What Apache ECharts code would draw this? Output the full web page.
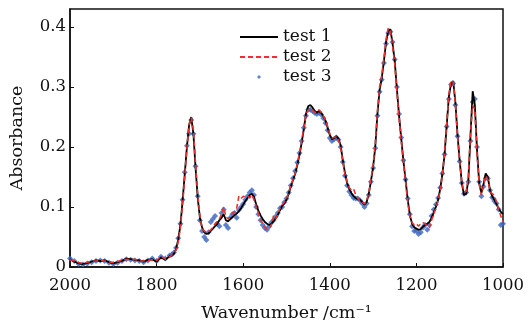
<!DOCTYPE html>
<html>
<head>
<meta charset="utf-8">
<script src="https://cdn.jsdelivr.net/npm/echarts@6/dist/echarts.min.js"></script>
<style>
  html, body { margin: 0; padding: 0; background: #fff; }
  #main { width: 531px; height: 327px; }
</style>
</head>
<body>
<div id="main"></div>
<script>
// wavenumbers (cm-1), baseline every 10, then every 5
var wavenumbers = [
  2000, 1990, 1980, 1970, 1960, 1950, 1940, 1930, 1920, 1910, 1900, 1890,
  1880, 1870, 1860, 1850, 1840, 1830, 1820, 1810, 1800, 1790, 1780, 1770,
  1765, 1760, 1755, 1750, 1745, 1740, 1735, 1730, 1725, 1720, 1715, 1710,
  1705, 1700, 1695, 1690, 1685, 1680, 1675, 1670, 1665, 1660, 1655, 1650,
  1645, 1640, 1635, 1630, 1625, 1620, 1615, 1610, 1605, 1600, 1595, 1590,
  1585, 1580, 1575, 1570, 1565, 1560, 1555, 1550, 1545, 1540, 1535, 1530,
  1525, 1520, 1515, 1510, 1505, 1500, 1495, 1490, 1485, 1480, 1475, 1470,
  1465, 1460, 1455, 1450, 1445, 1440, 1435, 1430, 1425, 1420, 1415, 1410,
  1405, 1400, 1395, 1390, 1385, 1380, 1375, 1370, 1365, 1360, 1355, 1350,
  1345, 1340, 1335, 1330, 1325, 1320, 1315, 1310, 1305, 1300, 1295, 1290,
  1285, 1280, 1275, 1270, 1265, 1260, 1255, 1250, 1245, 1240, 1235, 1230,
  1225, 1220, 1215, 1210, 1205, 1200, 1195, 1190, 1185, 1180, 1175, 1170,
  1165, 1160, 1155, 1150, 1145, 1140, 1135, 1130, 1125, 1120, 1115, 1110,
  1105, 1100, 1095, 1090, 1085, 1080, 1075, 1070, 1065, 1060, 1055, 1050,
  1045, 1040, 1035, 1030, 1025, 1020, 1015, 1010, 1005, 1000
];

var test1 = [
  0.013, 0.009, 0.006, 0.005, 0.007, 0.009, 0.011, 0.010, 0.011, 0.008, 0.006, 0.008,
  0.010, 0.014, 0.013, 0.012, 0.011, 0.009, 0.012, 0.013, 0.009, 0.016, 0.012, 0.018,
  0.019, 0.022, 0.030, 0.046, 0.070, 0.110, 0.155, 0.200, 0.236, 0.250, 0.222, 0.165,
  0.115, 0.082, 0.066, 0.058, 0.055, 0.056, 0.060, 0.064, 0.068, 0.072, 0.078, 0.082,
  0.088, 0.078, 0.076, 0.080, 0.083, 0.086, 0.089, 0.093, 0.098, 0.104, 0.110, 0.115,
  0.120, 0.122, 0.117, 0.104, 0.094, 0.086, 0.080, 0.075, 0.072, 0.070, 0.072, 0.076,
  0.081, 0.087, 0.095, 0.102, 0.106, 0.112, 0.122, 0.134, 0.145, 0.155, 0.170, 0.187,
  0.207, 0.230, 0.255, 0.268, 0.270, 0.266, 0.260, 0.257, 0.260, 0.257, 0.251, 0.244,
  0.232, 0.220, 0.213, 0.215, 0.218, 0.214, 0.203, 0.178, 0.157, 0.140, 0.130, 0.123,
  0.118, 0.115, 0.113, 0.112, 0.108, 0.104, 0.108, 0.122, 0.143, 0.166, 0.200, 0.255,
  0.295, 0.315, 0.343, 0.375, 0.394, 0.396, 0.372, 0.343, 0.296, 0.252, 0.214, 0.177,
  0.145, 0.112, 0.086, 0.072, 0.066, 0.064, 0.062, 0.063, 0.067, 0.070, 0.072, 0.075,
  0.082, 0.091, 0.100, 0.112, 0.130, 0.155, 0.187, 0.236, 0.284, 0.306, 0.310, 0.275,
  0.220, 0.177, 0.139, 0.120, 0.122, 0.145, 0.220, 0.293, 0.270, 0.195, 0.140, 0.123,
  0.138, 0.156, 0.150, 0.128, 0.118, 0.112, 0.105, 0.097, 0.092, 0.088
];

var test2 = [
  0.012, 0.010, 0.007, 0.006, 0.008, 0.010, 0.010, 0.011, 0.010, 0.009, 0.007, 0.009,
  0.011, 0.013, 0.012, 0.013, 0.010, 0.010, 0.011, 0.012, 0.011, 0.018, 0.013, 0.017,
  0.020, 0.023, 0.028, 0.042, 0.066, 0.104, 0.150, 0.198, 0.238, 0.249, 0.228, 0.172,
  0.120, 0.085, 0.064, 0.060, 0.058, 0.059, 0.062, 0.066, 0.072, 0.076, 0.080, 0.088,
  0.100, 0.084, 0.080, 0.083, 0.090, 0.092, 0.098, 0.118, 0.114, 0.118, 0.116, 0.118,
  0.115, 0.120, 0.112, 0.100, 0.090, 0.080, 0.072, 0.066, 0.062, 0.064, 0.070, 0.085,
  0.080, 0.088, 0.098, 0.104, 0.108, 0.114, 0.124, 0.136, 0.146, 0.156, 0.172, 0.190,
  0.210, 0.232, 0.254, 0.262, 0.264, 0.262, 0.258, 0.258, 0.262, 0.258, 0.252, 0.245,
  0.234, 0.222, 0.215, 0.216, 0.217, 0.212, 0.200, 0.176, 0.155, 0.142, 0.132, 0.128,
  0.130, 0.120, 0.114, 0.110, 0.108, 0.105, 0.110, 0.124, 0.146, 0.170, 0.205, 0.260,
  0.300, 0.320, 0.348, 0.380, 0.398, 0.394, 0.368, 0.338, 0.292, 0.248, 0.210, 0.174,
  0.142, 0.108, 0.084, 0.074, 0.070, 0.072, 0.068, 0.072, 0.074, 0.072, 0.068, 0.065,
  0.078, 0.088, 0.098, 0.110, 0.128, 0.153, 0.190, 0.240, 0.288, 0.311, 0.308, 0.272,
  0.218, 0.176, 0.140, 0.125, 0.126, 0.150, 0.224, 0.270, 0.262, 0.190, 0.138, 0.120,
  0.135, 0.152, 0.146, 0.126, 0.122, 0.120, 0.108, 0.096, 0.085, 0.075
];

var test3 = [
  0.014, 0.010, 0.005, 0.004, 0.006, 0.008, 0.010, 0.011, 0.010, 0.007, 0.005, 0.007,
  0.010, 0.013, 0.012, 0.011, 0.010, 0.008, 0.011, 0.014, 0.010, 0.017, 0.014, 0.019,
  0.021, 0.024, 0.032, 0.048, 0.072, 0.112, 0.158, 0.202, 0.222, 0.245, 0.222, 0.168,
  0.118, 0.078, 0.060, 0.050, 0.045, 0.058, 0.075, 0.080, 0.085, 0.072, 0.068, 0.090,
  0.096, 0.070, 0.065, 0.082, 0.088, 0.090, 0.082, 0.095, 0.100, 0.105, 0.112, 0.118,
  0.124, 0.128, 0.120, 0.100, 0.088, 0.078, 0.070, 0.065, 0.062, 0.068, 0.074, 0.078,
  0.084, 0.090, 0.098, 0.100, 0.108, 0.114, 0.124, 0.136, 0.148, 0.160, 0.174, 0.190,
  0.210, 0.232, 0.252, 0.262, 0.262, 0.260, 0.257, 0.255, 0.257, 0.254, 0.248, 0.240,
  0.228, 0.215, 0.210, 0.213, 0.216, 0.212, 0.200, 0.175, 0.152, 0.136, 0.126, 0.120,
  0.115, 0.114, 0.114, 0.111, 0.106, 0.100, 0.106, 0.120, 0.142, 0.165, 0.198, 0.252,
  0.292, 0.312, 0.340, 0.372, 0.390, 0.392, 0.375, 0.346, 0.300, 0.255, 0.216, 0.178,
  0.146, 0.114, 0.088, 0.068, 0.060, 0.060, 0.055, 0.058, 0.066, 0.070, 0.062, 0.070,
  0.085, 0.096, 0.104, 0.115, 0.132, 0.156, 0.188, 0.234, 0.280, 0.304, 0.306, 0.270,
  0.218, 0.176, 0.140, 0.122, 0.124, 0.142, 0.210, 0.275, 0.280, 0.200, 0.142, 0.118,
  0.134, 0.148, 0.148, 0.128, 0.116, 0.110, 0.106, 0.096, 0.070, 0.072
];

function pairs(ys) {
  var out = [];
  for (var i = 0; i < wavenumbers.length; i++) {
    out.push([wavenumbers[i], ys[i]]);
  }
  return out;
}

var font = 'DejaVu Serif';
var blue = '#3a64c0';
var chart = echarts.init(document.getElementById('main'));

chart.setOption({
  animation: false,
  backgroundColor: '#fff',
  textStyle: { fontFamily: font, color: '#111' },
  grid: {
    left: 67, right: 28, top: 9, bottom: 50,
    show: true, borderColor: '#111', borderWidth: 1.5, backgroundColor: 'transparent'
  },
  legend: {
    orient: 'vertical',
    left: 234, top: 22,
    itemGap: 0,
    itemWidth: 38, itemHeight: 4,
    symbolKeepAspect: true,
    textStyle: { fontFamily: font, fontSize: 17, color: '#111', lineHeight: 20 },
    data: [
      { name: 'test 1', itemStyle: { opacity: 0 } },
      { name: 'test 2', itemStyle: { opacity: 0 } },
      { name: 'test 3', icon: 'path://M0,4 L4,0 L8,4 L4,8 Z', itemStyle: { color: blue } }
    ]
  },
  xAxis: {
    type: 'value',
    inverse: true,
    min: 1000, max: 2000, interval: 200,
    name: 'Wavenumber /cm\u207B\u00B9',
    nameLocation: 'middle',
    nameGap: 37,
    nameTextStyle: { fontFamily: font, fontSize: 17.5, color: '#111' },
    axisLine: { lineStyle: { color: '#111', width: 1.5 } },
    axisTick: { inside: true, length: 4, lineStyle: { color: '#111' } },
    axisLabel: {
      fontFamily: font, fontSize: 16.5, color: '#111', margin: 10,
      formatter: function (v) { return String(v); }
    },
    splitLine: { show: false }
  },
  yAxis: {
    type: 'value',
    min: 0, max: 0.43, interval: 0.1,
    name: 'Absorbance',
    nameLocation: 'middle',
    nameGap: 44,
    nameTextStyle: { fontFamily: font, fontSize: 17.5, color: '#111' },
    axisLine: { lineStyle: { color: '#111', width: 1.5 } },
    axisTick: { inside: true, length: 4, lineStyle: { color: '#111' } },
    axisLabel: { fontFamily: font, fontSize: 16.5, color: '#111', margin: 4, showMaxLabel: false },
    splitLine: { show: false }
  },
  series: [
    {
      name: 'test 1',
      type: 'line',
      showSymbol: false,
      symbol: 'none',
      color: '#000',
      lineStyle: { color: '#000', width: 1.8 },
      data: pairs(test1)
    },
    {
      name: 'test 2',
      type: 'line',
      showSymbol: false,
      symbol: 'none',
      color: '#e8322e',
      lineStyle: { color: '#e8322e', width: 1.6, type: [5, 3] },
      data: pairs(test2)
    },
    {
      name: 'test 3',
      type: 'scatter',
      symbol: 'diamond',
      symbolSize: 6,
      itemStyle: { color: blue },
      data: pairs(test3)
    }
  ]
});
</script>
</body>
</html>
